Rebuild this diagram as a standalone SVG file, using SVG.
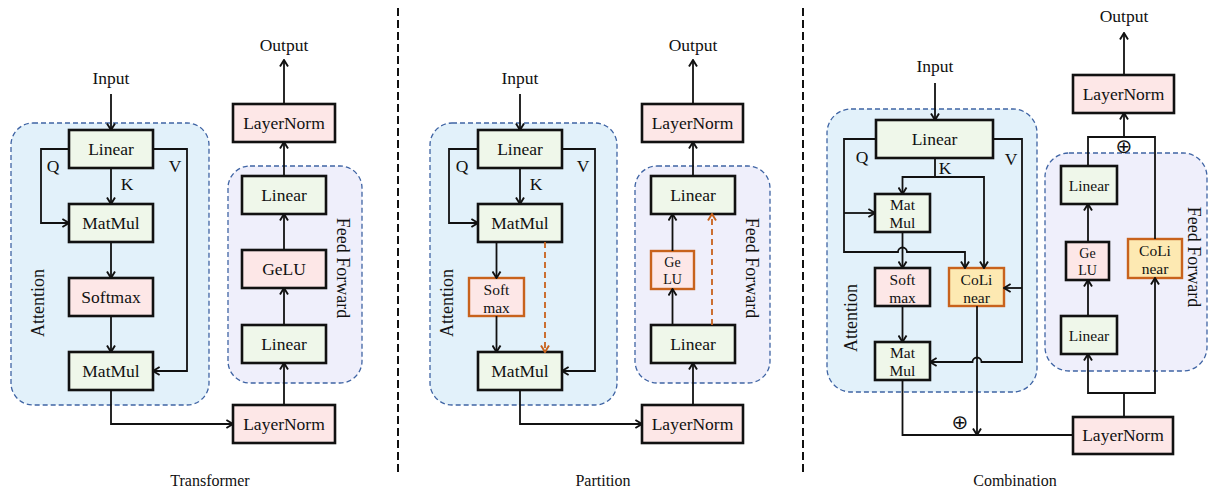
<svg xmlns="http://www.w3.org/2000/svg" width="1210" height="492" viewBox="0 0 1210 492">
  <style>
    text { font-family: "Liberation Serif", "Times New Roman", serif; fill: #111; }
    .t { font-size: 17.5px; text-anchor: middle; }
    .s { font-size: 15.5px; text-anchor: middle; }
    .xs { font-size: 14px; text-anchor: middle; }
    .lbl { font-size: 17.5px; text-anchor: middle; }
    .grp { font-size: 18px; text-anchor: middle; }
    .cap { font-size: 16px; text-anchor: middle; }
    .plus { font-family: "DejaVu Sans", sans-serif; font-size: 20px; text-anchor: middle; }
    .att { fill: #e2f1fa; stroke: #3f64a4; stroke-width: 1.3; stroke-dasharray: 5 3; }
    .ff { fill: #efeffb; stroke: #3f64a4; stroke-width: 1.3; stroke-dasharray: 5 3; }
    .g { fill: #eff7ea; stroke: #111; stroke-width: 2.6; }
    .p { fill: #fde7e7; stroke: #111; stroke-width: 2.6; }
    .po { fill: #fde7e7; stroke: #c8621c; stroke-width: 2.4; }
    .yo { fill: #fde9b2; stroke: #c8621c; stroke-width: 2.4; }
    .w { fill: none; stroke: #111; stroke-width: 1.8; }
    .wa { fill: none; stroke: #111; stroke-width: 1.8; marker-end: url(#arr); }
    .da { fill: none; stroke: #c8621c; stroke-width: 1.8; stroke-dasharray: 6 4; marker-end: url(#arrO); }
    .div { stroke: #111; stroke-width: 2; stroke-dasharray: 8 4; }
  </style>
  <defs>
    <marker id="arr" viewBox="0 0 10 10" refX="8.6" refY="5" markerWidth="10" markerHeight="10" markerUnits="userSpaceOnUse" orient="auto">
      <path d="M2,1 L8.6,5 L2,9" fill="none" stroke="#111" stroke-width="1.9"/>
    </marker>
    <marker id="arrO" viewBox="0 0 10 10" refX="8.6" refY="5" markerWidth="10" markerHeight="10" markerUnits="userSpaceOnUse" orient="auto">
      <path d="M2,1 L8.6,5 L2,9" fill="none" stroke="#c8621c" stroke-width="1.9"/>
    </marker>
  </defs>

  <!-- panel separators -->
  <line class="div" x1="398" y1="8" x2="398" y2="474"/>
  <line class="div" x1="803" y1="8" x2="803" y2="474"/>

  <!-- ===== Transformer ===== -->
  <g id="t-attention">
    <rect class="att" x="11" y="123" width="198" height="282" rx="22"/>
    <text class="grp" transform="translate(38,303) rotate(-90)" dy="6">Attention</text>
  </g>
  <g id="t-feedforward">
    <rect class="ff" x="228" y="166" width="134" height="217" rx="22"/>
    <text class="grp" transform="translate(343,268) rotate(90)" dy="6">Feed Forward</text>
  </g>
  <g id="t-linear"><rect class="g" x="69" y="130" width="84" height="38"/><text class="t" x="111" y="155">Linear</text></g>
  <g id="t-matmul1"><rect class="g" x="69" y="204" width="84" height="38"/><text class="t" x="111" y="229">MatMul</text></g>
  <g id="t-softmax"><rect class="p" x="69" y="278" width="84" height="38"/><text class="t" x="111" y="303">Softmax</text></g>
  <g id="t-matmul2"><rect class="g" x="69" y="352" width="84" height="38"/><text class="t" x="111" y="377">MatMul</text></g>
  <g id="t-ff-linear2"><rect class="g" x="242" y="176" width="84" height="38"/><text class="t" x="284" y="201">Linear</text></g>
  <g id="t-gelu"><rect class="p" x="242" y="250" width="84" height="38"/><text class="t" x="284" y="275">GeLU</text></g>
  <g id="t-ff-linear1"><rect class="g" x="242" y="325" width="84" height="38"/><text class="t" x="284" y="350">Linear</text></g>
  <g id="t-ln-out"><rect class="p" x="233" y="104" width="102" height="38"/><text class="t" x="284" y="129">LayerNorm</text></g>
  <g id="t-ln-mid"><rect class="p" x="233" y="405" width="102" height="38"/><text class="t" x="284" y="430">LayerNorm</text></g>
  <text class="t" x="111" y="84">Input</text>
  <text class="t" x="284" y="51">Output</text>
  <text class="lbl" x="53" y="172">Q</text>
  <text class="lbl" x="127" y="190">K</text>
  <text class="lbl" x="175" y="172">V</text>
  <text class="cap" x="210" y="486">Transformer</text>

  <!-- ===== Partition ===== -->
  <g id="p-attention">
    <rect class="att" x="430" y="123" width="187" height="282" rx="22"/>
    <text class="grp" transform="translate(447,303) rotate(-90)" dy="6">Attention</text>
  </g>
  <g id="p-feedforward">
    <rect class="ff" x="635" y="166" width="135" height="217" rx="22"/>
    <text class="grp" transform="translate(752,268) rotate(90)" dy="6">Feed Forward</text>
  </g>
  <g id="p-linear"><rect class="g" x="478" y="130" width="84" height="38"/><text class="t" x="520" y="155">Linear</text></g>
  <g id="p-matmul1"><rect class="g" x="478" y="204" width="84" height="38"/><text class="t" x="520" y="229">MatMul</text></g>
  <g id="p-softmax"><rect class="po" x="469" y="278" width="55" height="38"/><text class="s" x="496.5" y="295">Soft</text><text class="s" x="496.5" y="313">max</text></g>
  <g id="p-matmul2"><rect class="g" x="478" y="352" width="84" height="38"/><text class="t" x="520" y="377">MatMul</text></g>
  <g id="p-ff-linear2"><rect class="g" x="651" y="176" width="84" height="38"/><text class="t" x="693" y="201">Linear</text></g>
  <g id="p-gelu"><rect class="po" x="651" y="251" width="43" height="38"/><text class="xs" x="672.5" y="267">Ge</text><text class="xs" x="672.5" y="284">LU</text></g>
  <g id="p-ff-linear1"><rect class="g" x="651" y="325" width="84" height="38"/><text class="t" x="693" y="350">Linear</text></g>
  <g id="p-ln-out"><rect class="p" x="642" y="104" width="101" height="38"/><text class="t" x="692.5" y="129">LayerNorm</text></g>
  <g id="p-ln-mid"><rect class="p" x="642" y="405" width="101" height="38"/><text class="t" x="692.5" y="430">LayerNorm</text></g>
  <text class="t" x="520" y="84">Input</text>
  <text class="t" x="693" y="51">Output</text>
  <text class="lbl" x="462" y="172">Q</text>
  <text class="lbl" x="536" y="190">K</text>
  <text class="lbl" x="583" y="172">V</text>
  <text class="cap" x="603" y="486">Partition</text>

  <!-- ===== Combination ===== -->
  <g id="c-attention">
    <rect class="att" x="827" y="109" width="210" height="283" rx="24"/>
    <text class="grp" transform="translate(851,318) rotate(-90)" dy="6">Attention</text>
  </g>
  <g id="c-feedforward">
    <rect class="ff" x="1045" y="153" width="162" height="218" rx="24"/>
    <text class="grp" transform="translate(1194,257) rotate(90)" dy="6">Feed Forward</text>
  </g>
  <g id="c-linear"><rect class="g" x="876" y="120" width="117" height="38"/><text class="t" x="934.5" y="145">Linear</text></g>
  <g id="c-matmul1"><rect class="g" x="875" y="194" width="55" height="38"/><text class="s" x="902.5" y="210">Mat</text><text class="s" x="902.5" y="228">Mul</text></g>
  <g id="c-softmax"><rect class="p" x="875" y="268" width="55" height="38"/><text class="s" x="902.5" y="285">Soft</text><text class="s" x="902.5" y="303">max</text></g>
  <g id="c-colinear"><rect class="yo" x="949" y="268" width="55" height="38"/><text class="s" x="976.5" y="285">CoLi</text><text class="s" x="976.5" y="303">near</text></g>
  <g id="c-matmul2"><rect class="g" x="875" y="342" width="55" height="38"/><text class="s" x="902.5" y="358">Mat</text><text class="s" x="902.5" y="376">Mul</text></g>
  <g id="c-ff-linear2"><rect class="g" x="1061" y="166" width="56" height="38"/><text class="s" x="1089" y="191">Linear</text></g>
  <g id="c-gelu"><rect class="p" x="1066" y="242" width="43" height="38"/><text class="xs" x="1087.5" y="258">Ge</text><text class="xs" x="1087.5" y="275">LU</text></g>
  <g id="c-ff-linear1"><rect class="g" x="1061" y="316" width="56" height="38"/><text class="s" x="1089" y="341">Linear</text></g>
  <g id="c-ff-colinear"><rect class="yo" x="1128" y="239" width="54" height="39"/><text class="s" x="1155" y="256">CoLi</text><text class="s" x="1155" y="274">near</text></g>
  <g id="c-ln-out"><rect class="p" x="1073" y="75" width="101" height="38"/><text class="t" x="1123.5" y="100">LayerNorm</text></g>
  <g id="c-ln-mid"><rect class="p" x="1073" y="417" width="100" height="37"/><text class="t" x="1123" y="441">LayerNorm</text></g>
  <text class="t" x="935" y="72">Input</text>
  <text class="t" x="1124" y="22">Output</text>
  <text class="lbl" x="862" y="163">Q</text>
  <text class="lbl" x="945" y="174">K</text>
  <text class="lbl" x="1011" y="165">V</text>
  <text class="plus" x="960" y="429">⊕</text>
  <text class="plus" x="1124" y="153">⊕</text>
  <text class="cap" x="1015" y="486">Combination</text>

  <g id="connectors">
    <!-- Transformer -->
    <path class="wa" d="M111,94 V130"/>
    <path class="wa" d="M69,149 H41 V223 H69"/>
    <path class="wa" d="M111,168 V204"/>
    <path class="wa" d="M153,149 H187 V371 H153"/>
    <path class="wa" d="M111,242 V278"/>
    <path class="wa" d="M111,316 V352"/>
    <path class="wa" d="M111,390 V424 H233"/>
    <path class="wa" d="M284,405 V363"/>
    <path class="wa" d="M284,325 V288"/>
    <path class="wa" d="M284,250 V214"/>
    <path class="wa" d="M284,176 V142"/>
    <path class="wa" d="M284,104 V60"/>

    <!-- Partition -->
    <path class="wa" d="M520,94 V130"/>
    <path class="wa" d="M478,149 H449 V223 H478"/>
    <path class="wa" d="M520,168 V204"/>
    <path class="wa" d="M562,149 H595 V371 H562"/>
    <path class="wa" d="M496.5,242 V278"/>
    <path class="wa" d="M496.5,316 V352"/>
    <path class="da" d="M545,242 V352"/>
    <path class="wa" d="M520,390 V424 H642"/>
    <path class="wa" d="M693,405 V363"/>
    <path class="wa" d="M672.5,325 V289"/>
    <path class="wa" d="M672.5,251 V214"/>
    <path class="da" d="M712,325 V214"/>
    <path class="wa" d="M693,176 V142"/>
    <path class="wa" d="M693,104 V60"/>

    <!-- Combination -->
    <path class="wa" d="M935,83 V120"/>
    <path class="wa" d="M876,139 H844 V252 H898 A4.5,4.5 0 0 1 907,252 H965 V268"/>
    <path class="wa" d="M844,213 H875"/>
    <path class="w" d="M935,158 V177"/>
    <path class="wa" d="M935,177 H902.5 V194"/>
    <path class="wa" d="M935,177 H984 V268"/>
    <path class="wa" d="M993,139 H1022 V362 H981.5 A4.5,4.5 0 0 0 972.5,362 H930"/>
    <path class="wa" d="M1022,288 H1004"/>
    <path class="wa" d="M902.5,232 V268"/>
    <path class="wa" d="M902.5,306 V342"/>
    <path class="wa" d="M977,306 V435"/>
    <path class="w" d="M902.5,380 V435 H1073"/>
    <path class="w" d="M1124,417 V393"/>
    <path class="wa" d="M1124,393 H1088 V354"/>
    <path class="wa" d="M1124,393 H1155 V278"/>
    <path class="wa" d="M1088,316 V280"/>
    <path class="wa" d="M1088,242 V204"/>
    <path class="w" d="M1088,166 V137 H1155 V239"/>
    <path class="wa" d="M1124,137 V113"/>
    <path class="wa" d="M1124,75 V33"/>
  </g>
</svg>
